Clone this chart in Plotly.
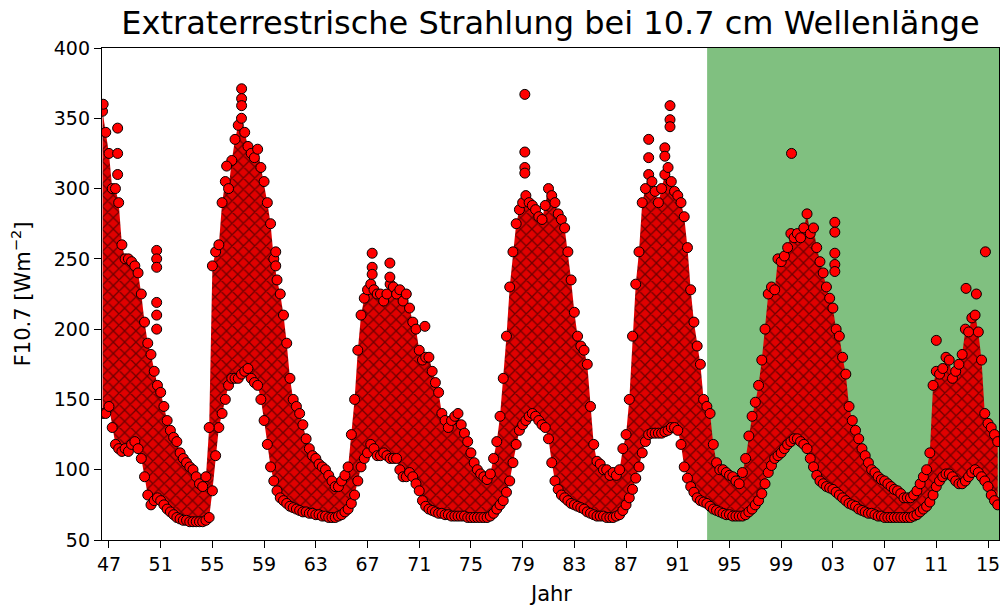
import plotly.graph_objects as go

# ---------------- data (quarterly envelope of daily F10.7) -------------
year_q = [
    1946.50, 1946.75,
    1947.00, 1947.25, 1947.50, 1947.75,
    1948.00, 1948.25, 1948.50, 1948.75,
    1949.00, 1949.25, 1949.50, 1949.75,
    1950.00, 1950.25, 1950.50, 1950.75,
    1951.00, 1951.25, 1951.50, 1951.75,
    1952.00, 1952.25, 1952.50, 1952.75,
    1953.00, 1953.25, 1953.50, 1953.75,
    1954.00, 1954.25, 1954.50, 1954.75,
    1955.00, 1955.25, 1955.50, 1955.75,
    1956.00, 1956.25, 1956.50, 1956.75,
    1957.00, 1957.25, 1957.50, 1957.75,
    1958.00, 1958.25, 1958.50, 1958.75,
    1959.00, 1959.25, 1959.50, 1959.75,
    1960.00, 1960.25, 1960.50, 1960.75,
    1961.00, 1961.25, 1961.50, 1961.75,
    1962.00, 1962.25, 1962.50, 1962.75,
    1963.00, 1963.25, 1963.50, 1963.75,
    1964.00, 1964.25, 1964.50, 1964.75,
    1965.00, 1965.25, 1965.50, 1965.75,
    1966.00, 1966.25, 1966.50, 1966.75,
    1967.00, 1967.25, 1967.50, 1967.75,
    1968.00, 1968.25, 1968.50, 1968.75,
    1969.00, 1969.25, 1969.50, 1969.75,
    1970.00, 1970.25, 1970.50, 1970.75,
    1971.00, 1971.25, 1971.50, 1971.75,
    1972.00, 1972.25, 1972.50, 1972.75,
    1973.00, 1973.25, 1973.50, 1973.75,
    1974.00, 1974.25, 1974.50, 1974.75,
    1975.00, 1975.25, 1975.50, 1975.75,
    1976.00, 1976.25, 1976.50, 1976.75,
    1977.00, 1977.25, 1977.50, 1977.75,
    1978.00, 1978.25, 1978.50, 1978.75,
    1979.00, 1979.25, 1979.50, 1979.75,
    1980.00, 1980.25, 1980.50, 1980.75,
    1981.00, 1981.25, 1981.50, 1981.75,
    1982.00, 1982.25, 1982.50, 1982.75,
    1983.00, 1983.25, 1983.50, 1983.75,
    1984.00, 1984.25, 1984.50, 1984.75,
    1985.00, 1985.25, 1985.50, 1985.75,
    1986.00, 1986.25, 1986.50, 1986.75,
    1987.00, 1987.25, 1987.50, 1987.75,
    1988.00, 1988.25, 1988.50, 1988.75,
    1989.00, 1989.25, 1989.50, 1989.75,
    1990.00, 1990.25, 1990.50, 1990.75,
    1991.00, 1991.25, 1991.50, 1991.75,
    1992.00, 1992.25, 1992.50, 1992.75,
    1993.00, 1993.25, 1993.50, 1993.75,
    1994.00, 1994.25, 1994.50, 1994.75,
    1995.00, 1995.25, 1995.50, 1995.75,
    1996.00, 1996.25, 1996.50, 1996.75,
    1997.00, 1997.25, 1997.50, 1997.75,
    1998.00, 1998.25, 1998.50, 1998.75,
    1999.00, 1999.25, 1999.50, 1999.75,
    2000.00, 2000.25, 2000.50, 2000.75,
    2001.00, 2001.25, 2001.50, 2001.75,
    2002.00, 2002.25, 2002.50, 2002.75,
    2003.00, 2003.25, 2003.50, 2003.75,
    2004.00, 2004.25, 2004.50, 2004.75,
    2005.00, 2005.25, 2005.50, 2005.75,
    2006.00, 2006.25, 2006.50, 2006.75,
    2007.00, 2007.25, 2007.50, 2007.75,
    2008.00, 2008.25, 2008.50, 2008.75,
    2009.00, 2009.25, 2009.50, 2009.75,
    2010.00, 2010.25, 2010.50, 2010.75,
    2011.00, 2011.25, 2011.50, 2011.75,
    2012.00, 2012.25, 2012.50, 2012.75,
    2013.00, 2013.25, 2013.50, 2013.75,
    2014.00, 2014.25, 2014.50, 2014.75,
    2015.00, 2015.25, 2015.50, 2015.75,
]

flux_high = [
    355, 340,
    325, 300, 300, 290,
    260, 250, 250, 248,
    245, 240, 225, 205,
    190, 182, 170, 160,
    155, 145, 135, 128,
    123, 120, 112, 108,
    105, 102, 100, 95,
    90, 88, 95, 130,
    245, 255, 260, 290,
    305, 300, 320, 335,
    345, 350, 340, 330,
    325, 322, 328, 315,
    305, 290, 275, 250,
    235, 225, 210, 190,
    165, 150, 145, 140,
    132, 122, 115, 110,
    108, 104, 102, 100,
    96, 92, 88, 88,
    92, 96, 102, 125,
    150, 185, 210, 222,
    228, 232, 228, 225,
    225, 220, 225, 232,
    230, 225, 228, 220,
    225, 215, 205, 200,
    185, 178, 180, 180,
    170, 162, 155, 140,
    135, 130, 135, 138,
    140, 132, 126, 120,
    112, 105, 100, 97,
    95, 93, 97, 108,
    120, 138, 165, 195,
    230, 255, 275, 285,
    290, 295, 290, 288,
    285, 280, 278, 288,
    300, 295, 290, 282,
    278, 272, 255, 235,
    212, 195, 188, 185,
    175, 145, 118, 106,
    104, 100, 100, 96,
    98, 96, 100, 115,
    125, 150, 195, 232,
    255, 290, 300, 310,
    305, 298, 290, 300,
    310, 315, 305, 298,
    295, 290, 280, 258,
    228, 205, 188, 175,
    150, 145, 140, 118,
    105, 100, 100, 98,
    96, 95, 92, 90,
    98, 108, 124, 138,
    148, 160, 178, 200,
    225, 230, 228, 250,
    248, 252, 258, 268,
    265, 268, 265, 272,
    282, 268, 272, 258,
    248, 240, 230, 222,
    215, 200, 195, 180,
    168, 145, 135, 128,
    122, 115, 110, 105,
    100, 98, 95, 93,
    92, 90, 88, 86,
    85, 83, 80, 80,
    80, 82, 85, 90,
    95, 100, 112, 160,
    170, 168, 172, 180,
    178, 165, 170, 175,
    182, 200, 198, 208,
    210, 198, 178, 140,
    133, 130, 125, 120,
]

flux_low = [
    140, 140,
    145, 130, 118, 115,
    113, 115, 113, 118,
    120, 115, 108, 95,
    82, 75, 78, 80,
    78, 75, 72, 70,
    68, 66, 65, 64,
    64, 63, 63, 63,
    63, 63, 64, 66,
    85, 110, 130, 140,
    150, 160, 165, 165,
    165, 168, 170, 172,
    165, 162, 160, 150,
    135, 118, 102, 92,
    85, 80, 78, 76,
    74, 73, 72, 71,
    70, 70, 69, 69,
    68, 68, 67, 67,
    66, 66, 66, 67,
    68, 70, 72, 76,
    82, 92, 102, 108,
    112, 118, 115, 110,
    110, 112, 110, 108,
    108, 108, 100, 95,
    95, 98, 95, 90,
    85, 78, 74, 72,
    71, 70, 69, 69,
    68, 68, 67, 67,
    67, 67, 67, 66,
    66, 66, 66, 66,
    66, 66, 67, 69,
    72, 75, 78, 84,
    92, 105, 118, 128,
    132, 135, 138, 140,
    138, 135, 132, 130,
    122, 105, 92, 86,
    82, 80, 78, 76,
    75, 74, 73, 72,
    70, 69, 68, 67,
    67, 67, 66, 66,
    66, 67, 68, 71,
    75, 80, 86, 94,
    102, 112, 120, 125,
    126, 126, 126, 126,
    127, 128, 130, 130,
    128, 118, 102, 94,
    88, 84, 80, 78,
    77, 76, 74, 72,
    71, 70, 69, 68,
    68, 67, 67, 67,
    67, 68, 70, 72,
    75, 78, 83, 90,
    98, 103, 108, 110,
    112, 115, 118, 120,
    122, 122, 120, 118,
    115, 108, 102, 96,
    92, 90, 88, 87,
    86, 84, 82, 80,
    78, 76, 75, 74,
    72, 71, 70, 69,
    69, 68, 67, 67,
    66, 66, 66, 66,
    66, 66, 66, 66,
    66, 67, 68, 70,
    72, 74, 77, 82,
    88, 92, 95, 97,
    97, 95, 92, 90,
    90, 92, 95, 98,
    100, 98, 95, 92,
    88, 82, 78, 75,
]

# isolated bursts standing clear of the dense band
spike_year = [1946.55, 1947.67, 1947.67, 1947.67,
              1950.69, 1950.69, 1950.69, 1950.69, 1950.69, 1950.69,
              1956.10, 1957.26, 1957.26, 1957.26, 1959.90, 1959.90,
              1967.36, 1967.36, 1967.36, 1968.73, 1968.73, 1971.44,
              1979.17, 1979.17, 1979.17, 1979.17,
              1988.75, 1988.75, 1990.00, 1990.00, 1990.40, 1990.40, 1990.40,
              1999.80, 2003.15, 2003.15, 2003.15, 2003.15, 2003.15,
              2011.00, 2013.30, 2014.10, 2014.80]
spike_flux = [360, 343, 325, 310,
              256, 250, 244, 219, 210, 200,
              316, 371, 364, 359, 255, 245,
              254, 244, 239, 247, 237, 202,
              367, 326, 315, 311,
              335, 322, 329, 323, 359, 349, 344,
              325, 276, 269, 254, 246, 241,
              192, 229, 225, 255]

tick_years = [1947, 1951, 1955, 1959, 1963, 1967, 1971, 1975, 1979, 1983,
              1987, 1991, 1995, 1999, 2003, 2007, 2011, 2015]
tick_labels = ["47", "51", "55", "59", "63", "67", "71", "75", "79", "83",
               "87", "91", "95", "99", "03", "07", "11", "15"]

X_MIN, X_MAX = 1946.46, 2015.85
GREEN_START = 1993.27

assert len(year_q) == len(flux_high) == len(flux_low)

FONT = "DejaVu Sans"

fig = go.Figure()

fig.add_shape(type="rect", xref="x", yref="paper", x0=GREEN_START, x1=X_MAX,
              y0=0, y1=1, fillcolor="#80c080", line_width=0, layer="below")

# dense band of overlapping daily markers
fig.add_trace(go.Scatter(x=year_q, y=flux_low, mode="lines",
                         line=dict(width=0, color="rgba(0,0,0,0)"),
                         showlegend=False, hoverinfo="skip"))
fig.add_trace(go.Scatter(x=year_q, y=flux_high, mode="lines",
                         line=dict(width=0, color="rgba(0,0,0,0)"),
                         fill="tonexty",
                         fillpattern=dict(shape="x", bgcolor="#e00000",
                                          fgcolor="#000000", size=8, solidity=0.3),
                         showlegend=False, hoverinfo="skip"))

mk = dict(size=10, color="#ff0000", line=dict(color="black", width=1))
fig.add_trace(go.Scatter(x=year_q + year_q + spike_year,
                         y=flux_low + flux_high + spike_flux,
                         mode="markers", marker=mk, showlegend=False))

axis_common = dict(showline=True, linecolor="black", linewidth=1.3, mirror=True,
                   ticks="outside", ticklen=7, tickwidth=1.3, tickcolor="black",
                   showgrid=False, zeroline=False,
                   tickfont=dict(family=FONT, size=19, color="black"))

fig.update_xaxes(range=[X_MIN, X_MAX], tickmode="array", tickvals=tick_years,
                 ticktext=tick_labels, **axis_common)
fig.update_yaxes(range=[50, 400], tickmode="array",
                 tickvals=[50, 100, 150, 200, 250, 300, 350, 400], **axis_common)

fig.update_layout(
    width=1002, height=605,
    margin=dict(l=102, r=3, t=48, b=65),
    paper_bgcolor="white", plot_bgcolor="white",
    title=dict(text="Extraterrestrische Strahlung bei 10.7 cm Wellenlänge",
               x=0.5, xref="paper", y=1 - 23 / 605, yref="container",
               xanchor="center", yanchor="middle",
               font=dict(family=FONT, size=32, color="black")),
    annotations=[
        dict(text="Jahr", xref="paper", yref="paper", x=0.5, y=-0.11,
             xanchor="center", yanchor="middle", showarrow=False,
             font=dict(family=FONT, size=21, color="black")),
        dict(text="F10.7 [Wm<sup>−2</sup>]", xref="paper", yref="paper",
             x=-0.09, y=0.5, textangle=-90, xanchor="center", yanchor="middle",
             showarrow=False, font=dict(family=FONT, size=21, color="black")),
    ],
)

fig.write_html("out.html")
